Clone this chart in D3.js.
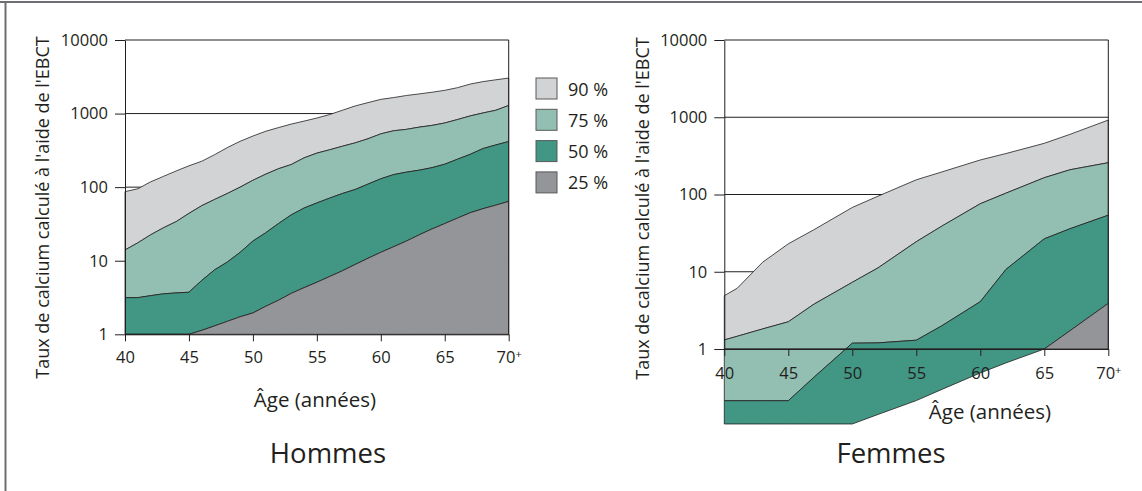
<!DOCTYPE html>
<html>
<head>
<meta charset="utf-8">
<script src="https://cdn.jsdelivr.net/npm/d3@7"></script>
<style>
  body { margin: 0; background: #fff; }
  svg { display: block; font-family: 'Open Sans', sans-serif; }
</style>
</head>
<body>
<div id="chart"></div>
<script>
// legend / bands
const bandLabels = ['90 %', '75 %', '50 %', '25 %'];
const bandColors = ['#d1d3d4', '#93bfb2', '#419684', '#939598'];
const yTicks = [1, 10, 100, 1000, 10000];
const xTicks = [40, 45, 50, 55, 60, 65, 70];
const xTickLabels = ['40', '45', '50', '55', '60', '65', '70+'];
const yLabel = "Taux de calcium calculé à l'aide de l'EBCT";
const xLabel = 'Âge (années)';

// Hommes
const agesH = [40, 41, 42, 43, 44, 45, 46, 47, 48, 49, 50, 51, 52, 53, 54, 55,
  56, 57, 58, 59, 60, 61, 62, 63, 64, 65, 66, 67, 68, 69, 70];
const h90 = [87, 95, 118, 140, 166, 195, 225, 276, 345, 420, 495, 575, 645, 720, 790, 870,
  970, 1110, 1270, 1410, 1560, 1650, 1760, 1850, 1950, 2070, 2250, 2520, 2720, 2880, 3040];
const h75 = [14, 17.5, 22.5, 28, 34, 44, 56, 68, 82, 100, 124, 150, 178, 203, 250, 290,
  322, 360, 400, 455, 530, 584, 610, 654, 690, 745, 830, 930, 1020, 1110, 1290];
const h50 = [3.15, 3.15, 3.35, 3.55, 3.65, 3.73, 5.4, 7.5, 9.6, 13, 18.5, 24, 32, 42, 52, 61,
  71, 82, 93, 110, 130, 148, 160, 170, 184, 205, 240, 280, 335, 375, 417];
const h25 = [1, 1, 1, 1, 1, 1, 1.13, 1.3, 1.5, 1.73, 1.95, 2.4, 2.9, 3.6, 4.3, 5.1,
  6.1, 7.3, 8.9, 10.8, 13, 15.5, 18.5, 22.5, 27, 32, 38, 45, 51, 57, 64];

// Femmes
const agesF = [40, 41, 43, 45, 47, 50, 52, 55, 57, 60, 62, 65, 67, 70];
const f90 = [4.9, 6.1, 13.3, 23, 35, 68, 95, 155, 196, 280, 339, 460, 600, 920];
const f75 = [1.31, 1.46, 1.82, 2.25, 3.8, 7.3, 11.2, 24.5, 39, 76, 104, 165, 209, 258];
const f50 = [0.214, 0.214, 0.214, 0.214, 0.43, 1.19, 1.2, 1.3, 2.0, 4.1, 10.7, 26.7, 36, 54];
const f25 = [0.107, 0.107, 0.107, 0.107, 0.107, 0.107, 0.142, 0.215, 0.30, 0.49, 0.66, 1.0, 1.72, 3.9];

const width = 1142, height = 491;
const ink = '#231f20';

const svg = d3.select('#chart').append('svg')
  .attr('width', width)
  .attr('height', height);

// frame
svg.append('line').attr('x1', 0).attr('x2', width).attr('y1', 2).attr('y2', 2)
  .attr('stroke', '#6d6e71').attr('stroke-width', 2);
svg.append('line').attr('x1', 5.5).attr('x2', 5.5).attr('y1', 2).attr('y2', height)
  .attr('stroke', '#6d6e71').attr('stroke-width', 2);

function drawPanel(cfg) {
  const x = d3.scaleLinear().domain([40, 70]).range([cfg.left, cfg.right]);
  const y = d3.scaleLog().domain([1, 10000]).range([cfg.bottom, cfg.top]);
  const g = svg.append('g');

  // grid (under areas)
  g.selectAll('.grid')
    .data(yTicks.filter(d => d > 1))
    .enter()
    .append('line')
    .attr('x1', cfg.left).attr('x2', cfg.right)
    .attr('y1', d => y(d)).attr('y2', d => y(d))
    .attr('stroke', ink).attr('stroke-width', 1);

  const rows = cfg.ages.map((a, i) => ({ age: a, s: cfg.series.map(s => s[i]) }));

  // bands: between consecutive series, last one down to the 1 line
  cfg.series.forEach((s, k) => {
    const area = d3.area()
      .x(d => x(d.age))
      .y1(d => y(d.s[k]))
      .y0(d => k < cfg.series.length - 1 ? y(d.s[k + 1]) : y(1));
    if (k === cfg.series.length - 1) area.y1(d => y(Math.max(d.s[k], 1)));
    g.append('path')
      .datum(rows)
      .attr('d', area)
      .attr('fill', bandColors[k])
      .attr('stroke', ink)
      .attr('stroke-width', 0.8)
      .attr('stroke-linejoin', 'round');
  });

  // y axis
  const yAxis = d3.axisLeft(y)
    .tickValues(yTicks)
    .tickFormat(d3.format('d'))
    .tickSize(10)
    .tickSizeOuter(0)
    .tickPadding(7);
  const ya = g.append('g')
    .attr('transform', `translate(${cfg.left},0)`)
    .call(yAxis);
  ya.selectAll('path, line').attr('stroke', ink).attr('stroke-width', 1);
  ya.selectAll('text').attr('fill', ink).style('font-size', '16.5px').style('font-family', 'Open Sans');

  // right edge
  g.append('line')
    .attr('x1', cfg.right).attr('x2', cfg.right)
    .attr('y1', y(10000)).attr('y2', y(1))
    .attr('stroke', ink).attr('stroke-width', 1);

  // x axis on the 1 line
  const xAxis = d3.axisBottom(x)
    .tickValues(xTicks)
    .tickFormat(() => '')
    .tickSize(7)
    .tickSizeOuter(0)
    .tickPadding(cfg.xPad);
  const xa = g.append('g')
    .attr('transform', `translate(0,${y(1)})`)
    .call(xAxis);
  xa.selectAll('path, line').attr('stroke', ink).attr('stroke-width', 1);
  xa.selectAll('.tick text')
    .attr('fill', ink)
    .style('font-size', '16.5px')
    .style('font-family', 'Open Sans')
    .each(function (d, i) {
      const lab = xTickLabels[i];
      const t = d3.select(this);
      t.text(lab.replace('+', ''));
      if (lab.endsWith('+')) {
        t.append('tspan').attr('dy', '-0.45em').style('font-size', '11px').text('+');
      }
    });

  // axis titles
  g.append('text')
    .attr('transform', `translate(${cfg.yLabelX},${cfg.yLabelY}) rotate(-90)`)
    .attr('text-anchor', 'middle')
    .attr('fill', ink)
    .style('font-size', '18px')
    .text(yLabel);

  g.append('text')
    .attr('x', cfg.xLabelX).attr('y', cfg.xLabelY)
    .attr('text-anchor', 'middle')
    .attr('fill', ink)
    .style('font-size', '20.5px')
    .text(xLabel);

  g.append('text')
    .attr('x', cfg.titleX).attr('y', 463)
    .attr('text-anchor', 'middle')
    .attr('fill', ink)
    .style('font-size', '27.5px')
    .text(cfg.title);
}

drawPanel({
  title: 'Hommes', titleX: 328,
  ages: agesH, series: [h90, h75, h50, h25],
  left: 125, right: 508.7, top: 40, bottom: 334.3, xPad: 10,
  yLabelX: 49, yLabelY: 207.5,
  xLabelX: 315, xLabelY: 407
});

drawPanel({
  title: 'Femmes', titleX: 891,
  ages: agesF, series: [f90, f75, f50, f25],
  left: 724.3, right: 1108.3, top: 40, bottom: 349, xPad: 11,
  yLabelX: 649, yLabelY: 208.5,
  xLabelX: 990, xLabelY: 419
});

// legend
const legend = svg.append('g').attr('transform', 'translate(536,78)');
const li = legend.selectAll('g')
  .data(bandLabels)
  .enter()
  .append('g')
  .attr('transform', (d, i) => `translate(0,${i * 31.3})`);
li.append('rect')
  .attr('width', 21).attr('height', 21)
  .attr('fill', (d, i) => bandColors[i])
  .attr('stroke', '#58595b').attr('stroke-width', 1);
li.append('text')
  .attr('x', 32).attr('y', 17.5)
  .attr('fill', ink)
  .style('font-size', '18px')
  .text(d => d);
</script>
</body>
</html>
